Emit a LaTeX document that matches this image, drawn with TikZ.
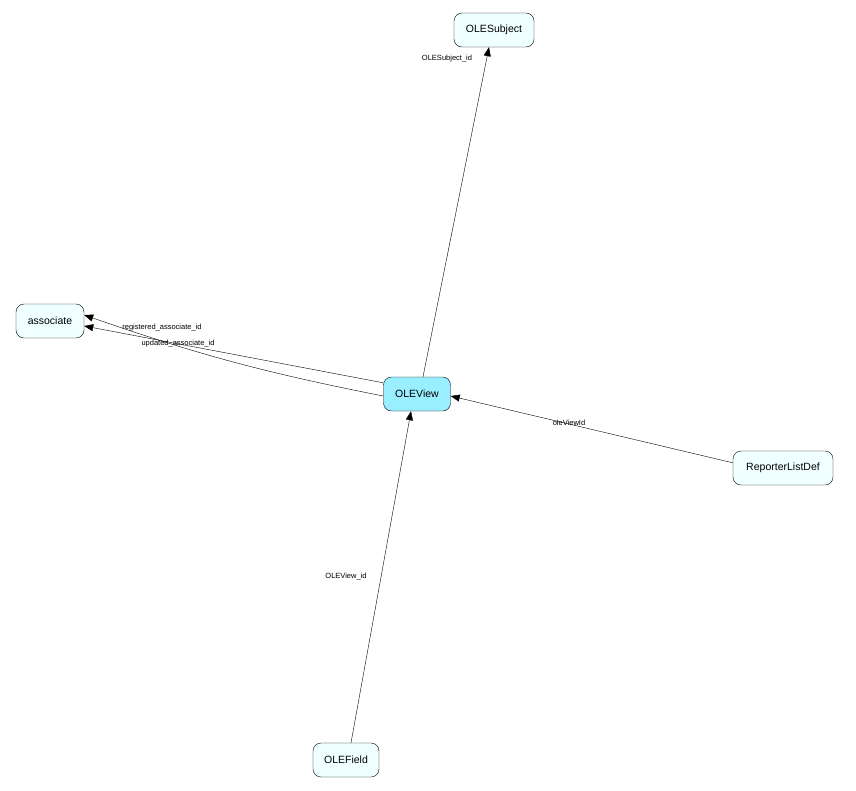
\documentclass[tikz,border=0pt]{standalone}
\usepackage{fontspec}
\setmainfont{Liberation Sans}
\usetikzlibrary{arrows.meta}
\definecolor{tablefill}{HTML}{F0FFFF}
\definecolor{focusfill}{HTML}{99EEFF}
\begin{document}
\begin{tikzpicture}[
  x=1pt, y=-1pt,
  table/.style={rectangle, rounded corners=8pt, draw, fill=tablefill, minimum height=34pt, inner xsep=8pt, font=\fontsize{10.5}{12}\selectfont},
  focus/.style={table, fill=focusfill},
  fk/.style={-{Triangle[length=9pt,width=7pt]}},
  lbl/.style={font=\fontsize{7.5}{9}\selectfont, inner sep=1pt}
]
\useasboundingbox (0,0) rectangle (856,790);
% Tables
\node[focus, minimum width=67pt] (oleview) at (417,394) {OLEView};
\node[table, minimum width=80pt] (olesubject) at (494,30) {OLESubject};
\node[table, minimum width=68pt] (associate) at (50,321) {associate};
\node[table, minimum width=100pt] (reporter) at (783,468) {ReporterListDef};
\node[table, minimum width=66pt] (olefield) at (346,760) {OLEField};

% Connections
\draw[fk] (oleview.north) ++(6,0) -- ([xshift=-5pt]olesubject.south);
\node[lbl] (lsubject) at (447,59) {OLESubject\_id};
\draw[fk] ([yshift=-6pt]oleview.north west) -- ([yshift=-5pt]associate.east);
\node[lbl] (lreg) at (162,328) {registered\_associate\_id};
\draw[fk] ([yshift=-2pt]oleview.west) to[bend left=4] ([yshift=6pt]associate.east);
\node[lbl] (lupd) at (178,344) {updated\_associate\_id};
\draw[fk] ([yshift=-12pt]reporter.north west) -- ([yshift=-2pt]oleview.east);
\node[lbl] (lreporter) at (569,423) {oleViewId};
\draw[fk] ([xshift=5pt]olefield.north) -- ([xshift=-6pt]oleview.south);
\node[lbl] (lfield) at (346,577) {OLEView\_id};
\end{tikzpicture}
\end{document}
